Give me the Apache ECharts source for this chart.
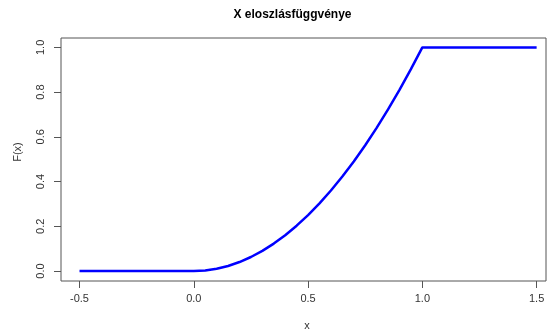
<!DOCTYPE html>
<html><head><meta charset="utf-8">
<script src="https://cdn.jsdelivr.net/npm/echarts@6/dist/echarts.min.js"></script>
<style>html,body{margin:0;padding:0;background:#fff}#c{width:549px;height:334px}</style>
</head><body><div id="c"></div>
<script>
var titleText = "X eloszlásfüggvénye";
var xName = "x";
var yName = "F(x)";
var xTicks = [-0.5, 0.0, 0.5, 1.0, 1.5];
var xTickLabels = ["-0.5", "0.0", "0.5", "1.0", "1.5"];
var yTicks = [0.0, 0.2, 0.4, 0.6, 0.8, 1.0];
var yTickLabels = ["0.0", "0.2", "0.4", "0.6", "0.8", "1.0"];
var xs = [-0.5,-0.45,-0.4,-0.35,-0.3,-0.25,-0.2,-0.15,-0.1,-0.05,
  0.0,0.05,0.1,0.15,0.2,0.25,0.3,0.35,0.4,0.45,0.5,0.55,0.6,0.65,0.7,0.75,0.8,0.85,0.9,0.95,1.0,
  1.05,1.1,1.15,1.2,1.25,1.3,1.35,1.4,1.45,1.5];
var Fx = [0,0,0,0,0,0,0,0,0,0,
  0,0.0025,0.01,0.0225,0.04,0.0625,0.09,0.1225,0.16,0.2025,0.25,0.3025,0.36,0.4225,0.49,0.5625,0.64,0.7225,0.81,0.9025,1.0,
  1,1,1,1,1,1,1,1,1,1];

var pts = xs.map(function(x,i){return [x, Fx[i]];});
var fontFam = '"Liberation Sans", Arial, sans-serif';
var chart = echarts.init(document.getElementById('c'), null, {renderer:'canvas'});
function fmt(v, list, labels){
  for (var i=0;i<list.length;i++){ if (Math.abs(list[i]-v)<1e-9) return labels[i]; }
  return '';
}
chart.setOption({
  animation:false,
  backgroundColor:'#fff',
  grid:{left:61, top:38, width:485, height:243, show:true, borderColor:'#555', borderWidth:1, backgroundColor:'transparent'},
  xAxis:{type:'value', min:-0.581, max:1.541, position:'bottom',
    axisLine:{show:false, onZero:false}, splitLine:{show:false},
    axisTick:{show:true, inside:false, length:7, customValues:xTicks, lineStyle:{color:'#555', width:1}},
    axisLabel:{show:true, customValues:xTicks, margin:12, color:'#333', fontSize:11, fontFamily:fontFam,
      formatter:function(v){return fmt(v, xTicks, xTickLabels);}}
  },
  yAxis:{type:'value', min:-0.0448, max:1.042, position:'left',
    axisLine:{show:false, onZero:false}, splitLine:{show:false},
    axisTick:{show:true, inside:false, length:7, customValues:yTicks, lineStyle:{color:'#555', width:1}},
    axisLabel:{show:true, customValues:yTicks, rotate:90, margin:15, color:'#333', fontSize:11, fontFamily:fontFam,
      formatter:function(v){return fmt(v, yTicks, yTickLabels);}}
  },
  graphic:[
    {type:'text', style:{text:titleText, x:292.5, y:15, align:'center', verticalAlign:'middle', fontSize:12, fontWeight:'bold', fontFamily:fontFam, fill:'#000'}},
    {type:'text', style:{text:xName, x:307, y:326, align:'center', verticalAlign:'middle', fontSize:11, fontFamily:fontFam, fill:'#333'}},
    {type:'text', x:18, y:152, rotation:Math.PI/2, style:{text:yName, x:0, y:0, align:'center', verticalAlign:'middle', fontSize:11, fontFamily:fontFam, fill:'#333'}}
  ],
  series:[{type:'line', data:pts, showSymbol:false, symbol:'none', smooth:false,
    lineStyle:{color:'#0000ff', width:2.5}, itemStyle:{color:'#0000ff'}}]
});
</script></body></html>
